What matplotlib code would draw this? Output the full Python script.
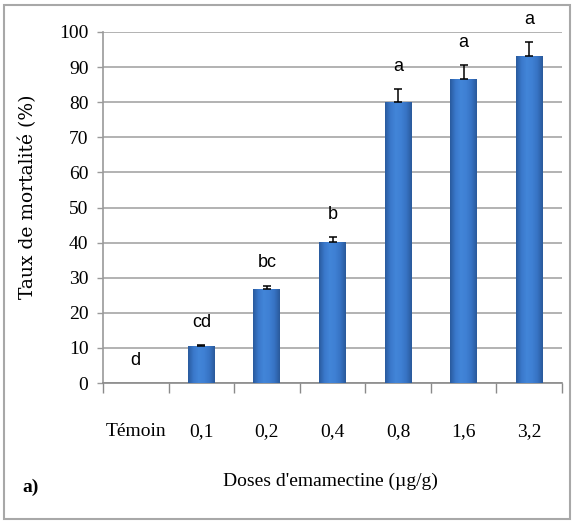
import matplotlib
matplotlib.use("Agg")
import matplotlib.pyplot as plt
from matplotlib.colors import LinearSegmentedColormap
from matplotlib.patches import Rectangle
import numpy as np

# data
doses = ["Témoin", "0,1", "0,2", "0,4", "0,8", "1,6", "3,2"]
mortality = [0, 10.5, 26.7, 40.3, 80.0, 86.7, 93.3]
err_up = [0, 0.3, 1.0, 1.3, 3.7, 3.9, 3.9]
groups = ["d", "cd", "bc", "b", "a", "a", "a"]

fig = plt.figure(figsize=(5.74, 5.23), dpi=100, facecolor="white")
ax = fig.add_axes([103 / 574, 1 - 383 / 523, (562 - 103) / 574, (383 - 32) / 523])

x = np.arange(len(doses))
bars = ax.bar(x, mortality, width=0.41, color="#3B7BD0", zorder=3)

# cylinder-like shading of the bars
shade = LinearSegmentedColormap.from_list(
    "shade", ["#2A5B9E", "#3A78CB", "#4285D8", "#3F80D4", "#3773C4", "#2A5A9B"])
grad = np.linspace(0, 1, 64).reshape(1, -1)
for b in bars:
    if b.get_height() <= 0:
        continue
    x0, y0 = b.get_x(), b.get_y()
    im = ax.imshow(grad, cmap=shade, aspect="auto", zorder=3.5,
                   extent=(x0, x0 + b.get_width(), y0, y0 + b.get_height()))
    im.set_clip_path(b)

has_err = [i for i, e in enumerate(err_up) if e > 0]
ax.errorbar(x[has_err], [mortality[i] for i in has_err],
            yerr=[np.zeros(len(has_err)), [err_up[i] for i in has_err]],
            fmt="none", ecolor="black", elinewidth=1.1, capsize=3,
            capthick=1.1, zorder=4)

for xi, v, e, g in zip(x, mortality, err_up, groups):
    ax.text(xi, v + e + 6.5, g, ha="center", va="center", fontsize=13,
            family="Liberation Sans", clip_on=False, zorder=5)

ax.set_xlim(-0.5, len(doses) - 0.5)
ax.set_ylim(0, 100)
ax.set_yticks(np.arange(0, 101, 10))
ax.set_xticks(x)
ax.set_xticklabels(doses)
ax.set_xticks(np.arange(-0.5, len(doses), 1), minor=True)

ax.grid(axis="y", color="#A6A6A6", lw=1.2, zorder=0)
ax.set_axisbelow(True)
for s in ["top", "right"]:
    ax.spines[s].set_visible(False)
ax.spines["left"].set_color("#9A9A9A")
ax.spines["bottom"].set_color("#8A8A8A")
ax.spines["left"].set_linewidth(1.2)
ax.spines["bottom"].set_linewidth(1.2)

ax.tick_params(axis="y", length=4.5, width=1.0, color="#9A9A9A", pad=6,
               labelsize=14)
ax.tick_params(axis="x", which="major", length=0, pad=29, labelsize=14)
ax.tick_params(axis="x", which="minor", length=7, width=1.0, color="#8A8A8A")
for lab in ax.get_xticklabels() + ax.get_yticklabels():
    lab.set_family("Liberation Serif")

ax.set_ylabel("Taux de mortalité (%)", family="DejaVu Serif", fontsize=13.5)
ax.yaxis.set_label_coords(37 / 574, 1 - 197 / 523, transform=fig.transFigure)
fig.text(330 / 574, 1 - 481 / 523, "Doses d'emamectine (µg/g)",
         ha="center", va="center", fontsize=14, family="Liberation Serif")
fig.text(31 / 574, 1 - 487 / 523, "a)", ha="center", va="center",
         fontsize=14, family="Liberation Serif", weight="bold")

# outer frame
fig.patches.append(Rectangle((4 / 574, 1 - 519 / 523), 566 / 574, 514 / 523,
                             transform=fig.transFigure, fill=False,
                             edgecolor="#A8A8A8", lw=1.5))

fig.savefig("out.png", dpi=100)
